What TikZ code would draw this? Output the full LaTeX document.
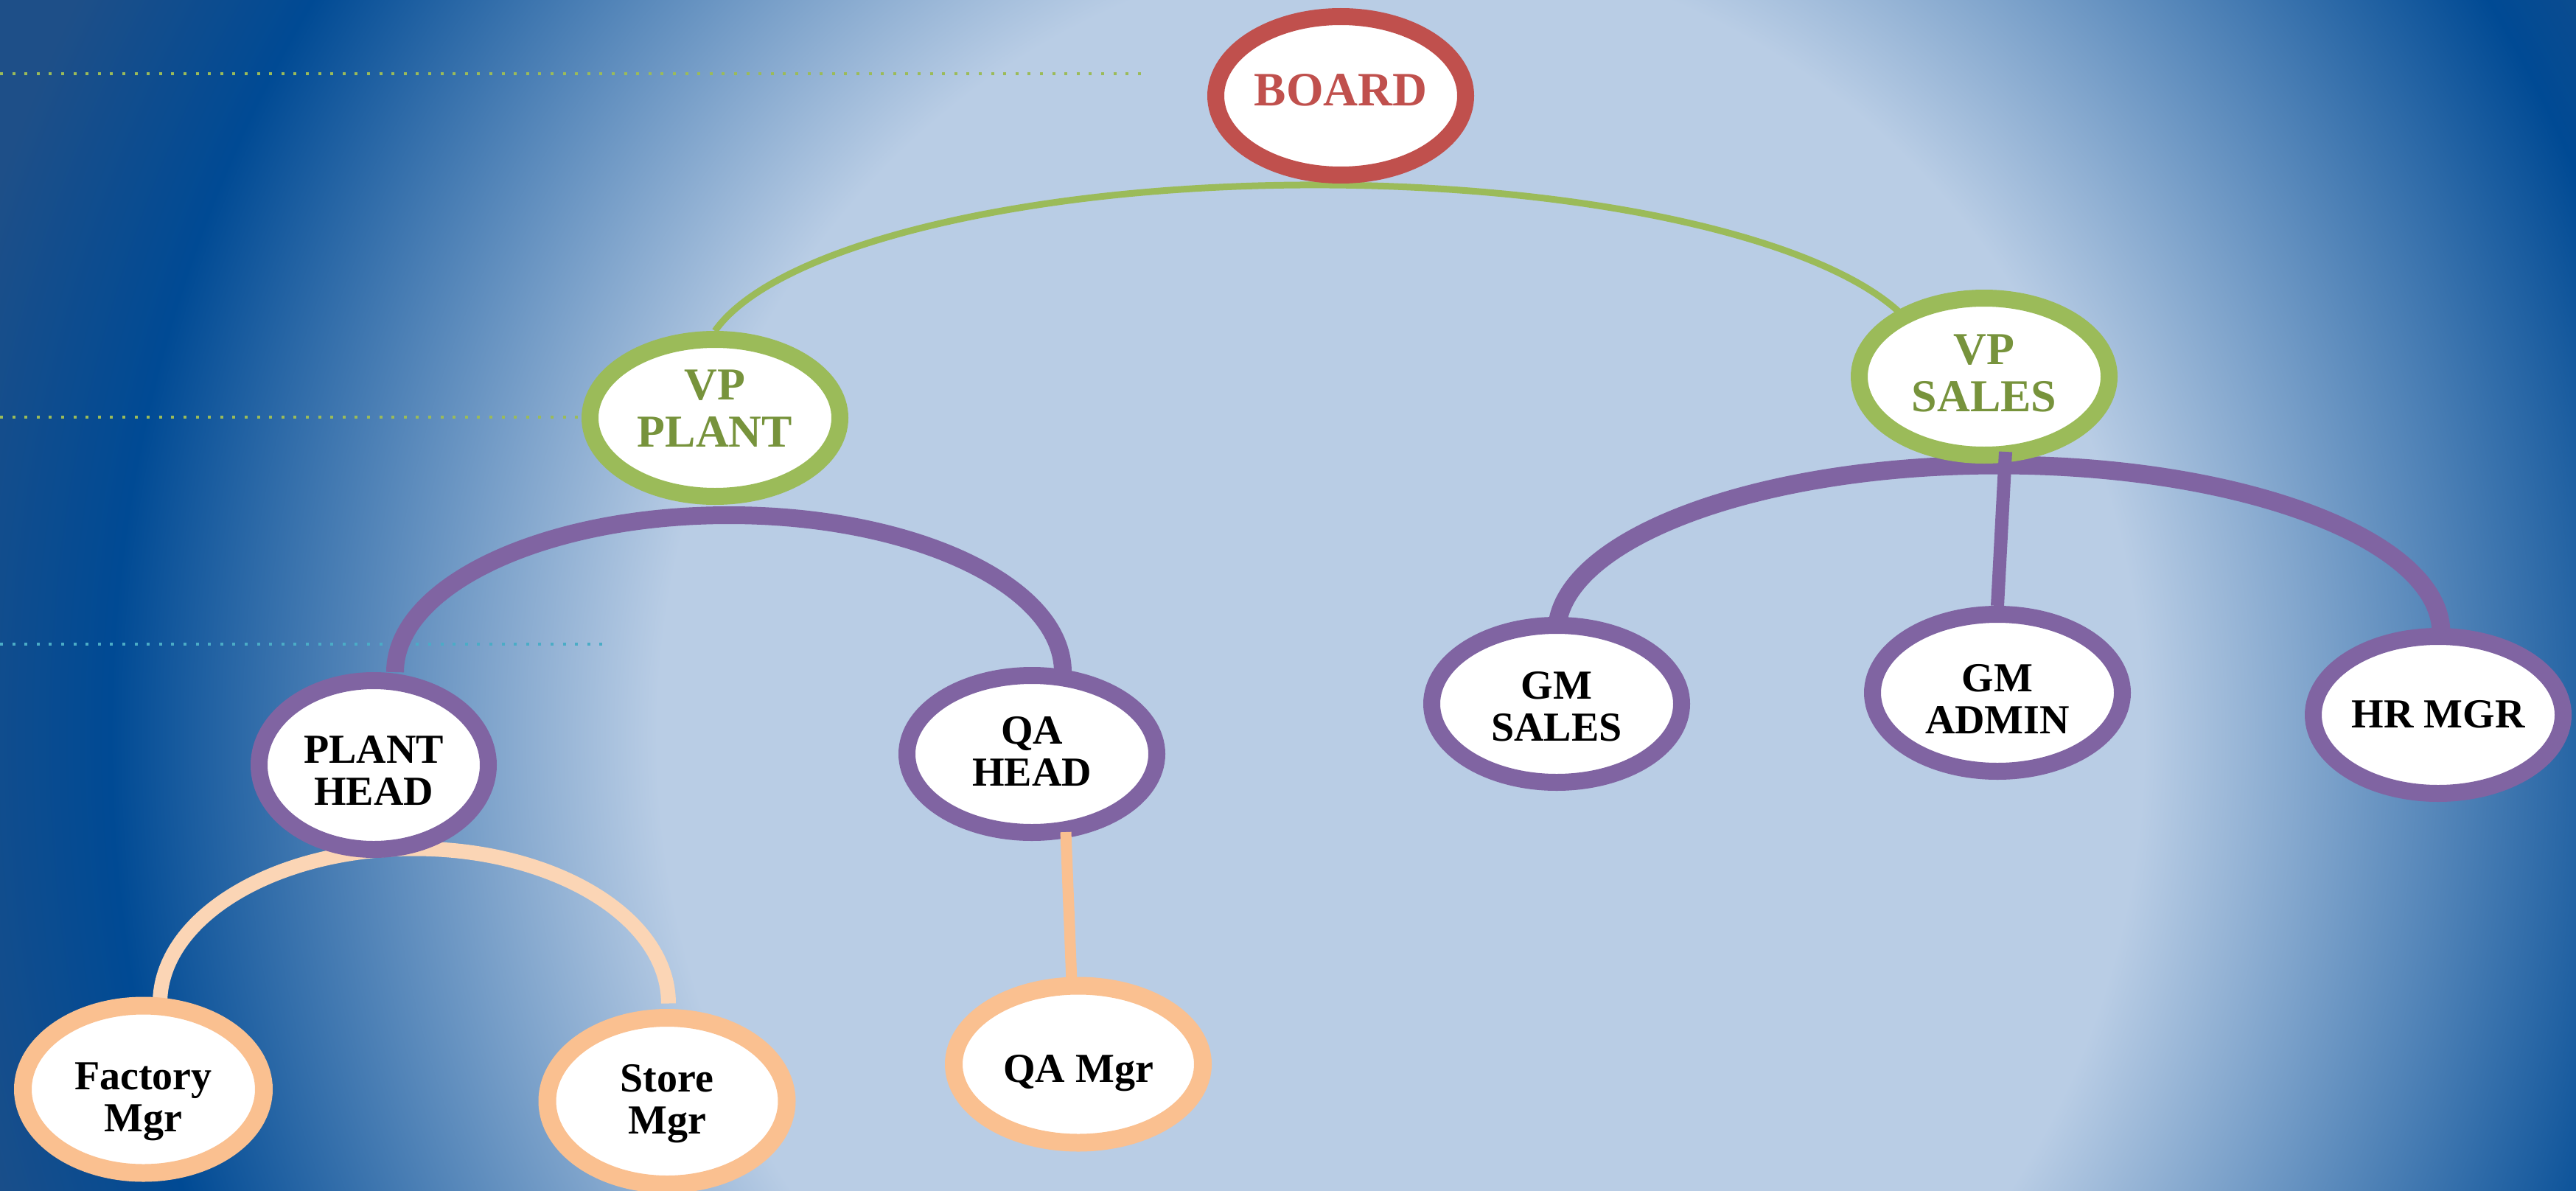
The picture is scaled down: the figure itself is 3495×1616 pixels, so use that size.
\documentclass[tikz,border=0pt]{standalone}
\usepackage{fontspec}
\setmainfont{Liberation Serif}
\usetikzlibrary{shapes.geometric,calc}
\definecolor{bglight}{HTML}{B9CDE5}
\definecolor{bgdark}{HTML}{004A94}
\definecolor{bgouter}{HTML}{1E4F88}
\definecolor{cgreen}{HTML}{9BBB59}
\definecolor{cgreentext}{HTML}{77933C}
\definecolor{cred}{HTML}{C0504D}
\definecolor{cpurple}{HTML}{8064A2}
\definecolor{corange}{HTML}{FAC090}
\definecolor{cpeach}{HTML}{FBD5B5}
\definecolor{ccyan}{HTML}{4BACC6}
\pgfdeclareradialshading{bgshade}{\pgfpoint{0bp}{0bp}}{color(0bp)=(bglight); color(7.2bp)=(bglight); color(12.5bp)=(bgdark); color(14.5bp)=(bgouter); color(50bp)=(bgouter)}
\pgfdeclarelayer{back}
\pgfdeclarelayer{links}
\pgfsetlayers{back,links,main}
\begin{document}
\begin{tikzpicture}[x=1pt,y=-1pt,
  orgnode/.style={ellipse, fill=white, inner sep=0pt, align=center},
  bossnode/.style={orgnode, draw=cred, line width=23pt, minimum width=339pt, minimum height=215pt,
    text=cred, font={\bfseries\fontsize{65}{68}\selectfont}},
  vpnode/.style={orgnode, draw=cgreen, line width=23pt, minimum width=339pt, minimum height=213pt,
    text=cgreentext, font={\bfseries\fontsize{62}{64}\selectfont}},
  midnode/.style={orgnode, draw=cpurple, line width=23pt, minimum width=339pt, minimum height=213pt,
    text=black, font={\bfseries\fontsize{56}{57}\selectfont}},
  mgrnode/.style={orgnode, draw=corange, line width=24pt, minimum width=338pt, minimum height=213pt,
    text=black, font={\bfseries\fontsize{56}{57}\selectfont}},
  dotline/.style={line width=4pt, dash pattern=on 4pt off 12.6pt},
  greenlink/.style={cgreen, line width=9pt},
  purplelink/.style={cpurple, line width=24pt},
  peachlink/.style={cpeach, line width=20pt},
]
\useasboundingbox (0,0) rectangle (3495,1616);

% nodes
\node[bossnode, text depth=17pt] (board) at (1819,130) {BOARD};
\node[vpnode, text depth=26pt] (vpplant) at (970,567) {VP\\PLANT};
\node[vpnode, text depth=9pt] (vpsales) at (2692,511) {VP\\SALES};
\node[midnode, minimum width=311pt, minimum height=229pt, text height=109pt, text depth=0pt] (planthead) at (507,1038) {PLANT\\HEAD};
\node[midnode, text depth=7pt] (qahead) at (1400,1023) {QA\\HEAD};
\node[midnode, text height=101pt, text depth=0pt] (gmsales) at (2112,955) {GM\\SALES};
\node[midnode, text height=111pt, text depth=0pt] (gmadmin) at (2710,940) {GM\\ADMIN};
\node[midnode, text depth=3pt] (hrmgr) at (3308,970) {HR MGR};
\node[mgrnode, minimum width=327pt, minimum height=227pt, text height=115pt, text depth=0pt] (factory) at (194.5,1478) {Factory\\Mgr};
\node[mgrnode, minimum width=325pt, minimum height=226pt, text depth=5pt] (store) at (905,1494) {Store\\Mgr};
\node[mgrnode, text height=49pt, text depth=0pt] (qamgr) at (1463,1444) {QA Mgr};

% background
\begin{pgfonlayer}{back}
  \fill[bgouter] (0,0) rectangle (3495,1616);
  \begin{scope}
    \clip (0,0) rectangle (3495,1616);
    \shade[shading=bgshade] (1900,1000) ellipse [x radius=3500pt, y radius=3720pt];
  \end{scope}
  \draw[dotline, cgreen] (0,100) -- (1558,100);
  \draw[dotline, cgreen] (0,566) -- (800,566);
  \draw[dotline, ccyan] (0,874) -- (822,874);
\end{pgfonlayer}

% arcs below the nodes
\begin{pgfonlayer}{links}
  \draw[greenlink] (vpplant.north) arc[start angle=168, end angle=15, x radius=833pt, y radius=250pt];
  \draw[purplelink] ($(planthead.north)+(29,0)$) arc[start angle=180, end angle=0, x radius=453pt, y radius=213pt];
  \draw[purplelink, line width=25pt] ($(gmsales.north)+(0,22)$) arc[start angle=180, end angle=0, x radius=600pt, y radius=228pt];
  \draw[peachlink] ($(factory.north)+(22.5,9)$) arc[start angle=180, end angle=0, x radius=345pt, y radius=210pt];
\end{pgfonlayer}

% straight connectors on top
\draw[cpurple, line width=18pt] ($(vpsales.south)+(29,-16)$) -- (gmadmin.north);
\draw[corange, line width=15pt] ($(qahead.south)+(46,-12)$) -- ($(qamgr.north)+(-9,7)$);
\end{tikzpicture}
\end{document}
